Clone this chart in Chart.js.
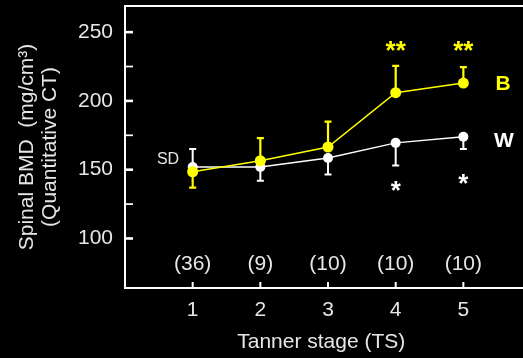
<!DOCTYPE html>
<html>
<head>
<meta charset="utf-8">
<script src="https://cdn.jsdelivr.net/npm/chart.js@4"></script>
<style>
  html, body { margin: 0; padding: 0; background: #000; overflow: hidden; }
  #wrap { width: 523px; height: 358px; }
</style>
</head>
<body>
<div id="wrap"><canvas id="bmdChart" width="523" height="358"></canvas></div>
<script>
// Tanner stages and group sizes
const stages = [1, 2, 3, 4, 5];
const groupN = ['(36)', '(9)', '(10)', '(10)', '(10)'];

// Black (B) and White (W) spinal BMD means, mg/cm3
const bMeans = [148.5, 156.5, 166.5, 206, 213];
const wMeans = [152, 152, 158.5, 169.5, 174];

// end of the one-sided SD bar for each point
const bBarEnd = [137, 173, 185, 225.5, 224.5];
const wBarEnd = [165, 142, 146.5, 153, 165];

// significance marks
const bStars = ['', '', '', '**', '**'];
const wStars = ['', '', '', '*', '*'];
const bStarY = 239;
const wStarY = [0, 0, 0, 137.5, 142.5];

const yMajor = [100, 150, 200, 250];
const yMinor = [125, 175, 225];

const YELLOW = '#ffff00';
const WHITE = '#ffffff';
const TEXT = '#e6e6e6';
const FONT = "'Liberation Sans', Arial, sans-serif";

const toXY = vals => stages.map((s, i) => ({ x: s, y: vals[i] }));

// frame, tick marks, error bars, labels
const decorations = {
  id: 'decorations',
  beforeDatasetsDraw(chart) {
    const { ctx, scales: { x, y } } = chart;
    ctx.save();
    ctx.lineCap = 'butt';
    const bars = [[bMeans, bBarEnd, YELLOW, 2.2], [wMeans, wBarEnd, WHITE, 2]];
    bars.forEach(([means, ends, color, lw]) => {
      ctx.strokeStyle = color;
      ctx.lineWidth = lw;
      stages.forEach((s, i) => {
        const px = x.getPixelForValue(s);
        const y0 = y.getPixelForValue(means[i]);
        const y1 = y.getPixelForValue(ends[i]);
        ctx.beginPath();
        ctx.moveTo(px, y0);
        ctx.lineTo(px, y1);
        ctx.moveTo(px - 3.5, y1);
        ctx.lineTo(px + 3.5, y1);
        ctx.stroke();
      });
    });
    ctx.restore();
  },
  afterDraw(chart) {
    const { ctx, chartArea: a, scales: { x, y } } = chart;
    ctx.save();
    // frame: left, top, bottom (right side runs off the picture)
    ctx.strokeStyle = WHITE;
    ctx.lineWidth = 2;
    ctx.beginPath();
    ctx.moveTo(a.right + 10, a.top);
    ctx.lineTo(a.left, a.top);
    ctx.lineTo(a.left, a.bottom);
    ctx.lineTo(a.right + 10, a.bottom);
    ctx.stroke();

    // inward y ticks
    yMajor.forEach(v => {
      const py = y.getPixelForValue(v);
      ctx.lineWidth = 2.6;
      ctx.beginPath(); ctx.moveTo(a.left, py); ctx.lineTo(a.left + 8, py); ctx.stroke();
    });
    yMinor.forEach(v => {
      const py = y.getPixelForValue(v);
      ctx.lineWidth = 1.7;
      ctx.beginPath(); ctx.moveTo(a.left, py); ctx.lineTo(a.left + 8, py); ctx.stroke();
    });
    // inward x ticks
    stages.forEach(s => {
      const px = x.getPixelForValue(s);
      ctx.lineWidth = 2;
      ctx.beginPath(); ctx.moveTo(px, a.bottom); ctx.lineTo(px, a.bottom - 6); ctx.stroke();
    });

    ctx.textAlign = 'center';
    ctx.textBaseline = 'middle';
    // group sizes
    ctx.fillStyle = TEXT;
    ctx.font = '21px ' + FONT;
    stages.forEach((s, i) => {
      ctx.fillText(groupN[i], x.getPixelForValue(s), y.getPixelForValue(81));
    });
    // stars
    ctx.font = 'bold 26px ' + FONT;
    stages.forEach((s, i) => {
      if (bStars[i]) {
        ctx.fillStyle = YELLOW;
        ctx.fillText(bStars[i], x.getPixelForValue(s), y.getPixelForValue(bStarY) + 5);
      }
      if (wStars[i]) {
        ctx.fillStyle = WHITE;
        ctx.fillText(wStars[i], x.getPixelForValue(s), y.getPixelForValue(wStarY[i]) + 5);
      }
    });
    // series letters
    ctx.font = 'bold 21px ' + FONT;
    ctx.fillStyle = YELLOW;
    ctx.fillText('B', 503, y.getPixelForValue(bMeans[4]) + 1);
    ctx.fillStyle = WHITE;
    ctx.fillText('W', 504, y.getPixelForValue(wMeans[4]) + 5);
    // SD note
    ctx.font = '16px ' + FONT;
    ctx.fillStyle = TEXT;
    ctx.fillText('SD', 168, y.getPixelForValue(157));
    ctx.restore();
  }
};

new Chart(document.getElementById('bmdChart'), {
  type: 'line',
  data: {
    datasets: [
      {
        label: 'B',
        data: toXY(bMeans),
        borderColor: YELLOW,
        backgroundColor: YELLOW,
        borderWidth: 1.5,
        pointRadius: 5.5,
        pointBorderWidth: 0,
        order: 0
      },
      {
        label: 'W',
        data: toXY(wMeans),
        borderColor: WHITE,
        backgroundColor: WHITE,
        borderWidth: 1.5,
        pointRadius: 5,
        pointBorderWidth: 0,
        order: 1
      }
    ]
  },
  options: {
    responsive: false,
    animation: false,
    layout: { padding: { top: 6, right: 0, left: 0, bottom: 0 } },
    plugins: {
      legend: { display: false },
      tooltip: { enabled: false }
    },
    scales: {
      x: {
        type: 'linear',
        min: 0,
        max: 5.8,
        border: { display: false },
        grid: { display: false, drawTicks: false },
        afterBuildTicks(scale) {
          scale.ticks = stages.map(v => ({ value: v }));
        },
        afterFit(scale) {
          scale.height = 70;
          scale.paddingLeft = 0;
          scale.paddingRight = 0;
        },
        ticks: {
          color: TEXT,
          font: { family: FONT, size: 21 },
          padding: 10,
          maxRotation: 0
        },
        title: {
          display: true,
          text: 'Tanner stage (TS)',
          color: TEXT,
          font: { family: FONT, size: 21 },
          padding: { top: 4, bottom: 3 }
        }
      },
      y: {
        min: 64,
        max: 269,
        border: { display: false },
        grid: { display: false, drawTicks: false },
        afterBuildTicks(scale) {
          scale.ticks = yMajor.map(v => ({ value: v }));
        },
        afterFit(scale) {
          scale.width = 125;
          scale.paddingTop = 0;
          scale.paddingBottom = 0;
        },
        ticks: {
          color: TEXT,
          font: { family: FONT, size: 21 },
          padding: 12
        },
        title: {
          display: true,
          text: ['Spinal BMD  (mg/cm\u00b3)', '(Quantitative CT)'],
          color: TEXT,
          font: { family: FONT, size: 21, lineHeight: 1.1 },
          padding: { top: 16, bottom: 0 }
        }
      }
    }
  },
  plugins: [decorations]
});
</script>
</body>
</html>
